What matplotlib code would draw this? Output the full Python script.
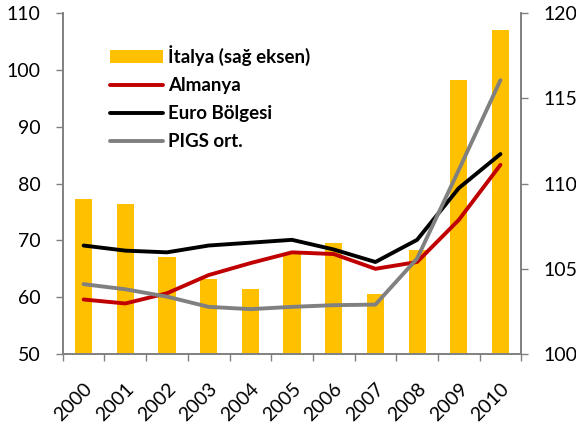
import matplotlib
matplotlib.use("Agg")
import matplotlib.pyplot as plt
import numpy as np

years = ["2000", "2001", "2002", "2003", "2004", "2005", "2006", "2007", "2008", "2009", "2010"]
italya = [109.1, 108.8, 105.7, 104.4, 103.8, 105.9, 106.5, 103.5, 106.1, 116.1, 119.0]
almanya = [59.6, 58.9, 60.7, 63.9, 66.0, 67.9, 67.6, 65.0, 66.2, 73.6, 83.3]
euro = [69.1, 68.2, 67.9, 69.1, 69.6, 70.1, 68.4, 66.2, 70.1, 79.2, 85.2]
pigs = [62.3, 61.4, 60.1, 58.3, 57.9, 58.3, 58.6, 58.7, 66.8, 82.4, 98.2]

left_ticks = [50, 60, 70, 80, 90, 100, 110]
right_ticks = [100, 105, 110, 115, 120]

plt.rcParams['font.family'] = ['Lato', 'DejaVu Sans']

fig = plt.figure(figsize=(5.76, 4.25), dpi=100)
ax1 = fig.add_axes([0.109, 0.167, 0.796, 0.802])
ax2 = ax1.twinx()
ax1.set_zorder(ax2.get_zorder() + 1)
ax1.patch.set_visible(False)

x = np.arange(len(years))
gray = '#808080'

bars = ax2.bar(x, [v - 100 for v in italya], bottom=100, width=0.41, color='#FFC000',
               label='İtalya (sağ eksen)')
l1, = ax1.plot(x, almanya, color='#C00000', lw=2.8, label='Almanya', solid_capstyle='round')
l2, = ax1.plot(x, euro, color='black', lw=2.8, label='Euro Bölgesi', solid_capstyle='round')
l3, = ax1.plot(x, pigs, color=gray, lw=2.8, label='PIGS ort.', solid_capstyle='round')

ax1.set_xlim(-0.5, len(years) - 0.5)
ax1.set_ylim(50, 110)
ax2.set_ylim(100, 120)
ax1.set_yticks(left_ticks)
ax2.set_yticks(right_ticks)

ax1.set_xticks(x)
ax1.set_xticklabels(years, rotation=45, ha='right', rotation_mode='anchor', fontsize=14)
ax1.set_xticks(np.arange(-0.5, len(years), 1.0), minor=True)
ax1.tick_params(axis='x', which='major', length=0, pad=19)
ax1.tick_params(axis='x', which='minor', length=5, width=1, color=gray, direction='out')
ax1.tick_params(axis='y', length=5, width=1, color=gray, labelsize=14, pad=11)
ax2.tick_params(axis='y', length=5, width=1, color=gray, labelsize=14, pad=11)

for ax in (ax1, ax2):
    ax.spines['top'].set_visible(False)
    for s in ('left', 'right', 'bottom'):
        ax.spines[s].set_color(gray)
        ax.spines[s].set_linewidth(1.2)

leg = ax1.legend([bars, l1, l2, l3], [bars.get_label(), 'Almanya', 'Euro Bölgesi', 'PIGS ort.'],
                 loc='upper left', bbox_to_anchor=(0.103, 0.905), frameon=False,
                 prop={'weight': 'bold', 'size': 13.5}, handlelength=2.8, handletextpad=0.3,
                 labelspacing=0.58, handleheight=0.7, borderpad=0, borderaxespad=0)

fig.savefig('out.png', dpi=100)
